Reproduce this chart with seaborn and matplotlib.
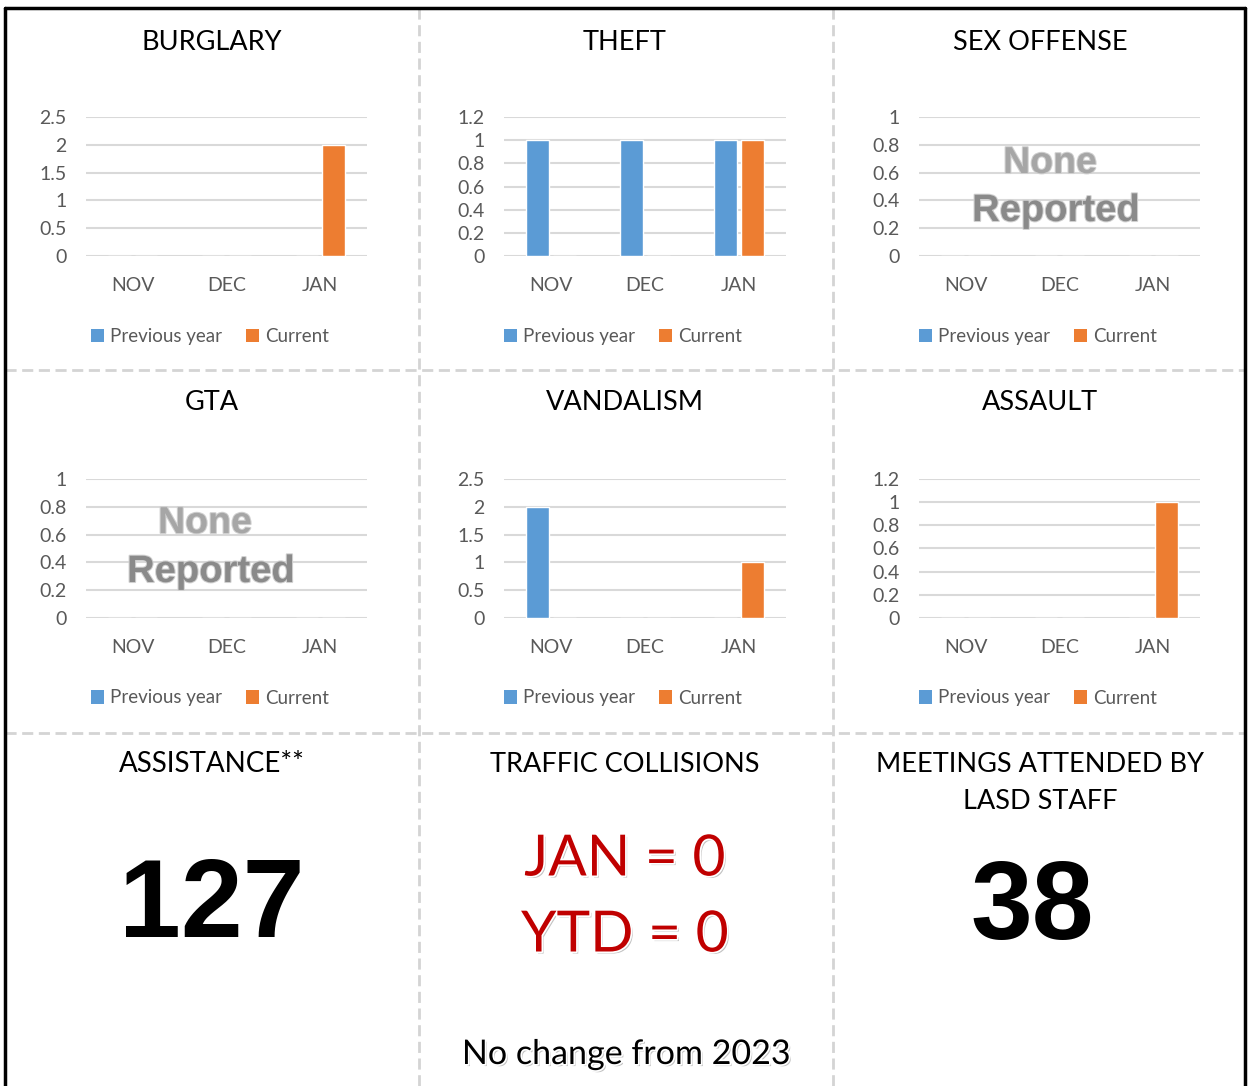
import matplotlib
matplotlib.use("Agg")
import matplotlib.pyplot as plt
import matplotlib.patheffects as pe
from matplotlib.lines import Line2D
from matplotlib.patches import Patch
from matplotlib.ticker import FuncFormatter, MultipleLocator
import seaborn as sns
import pandas as pd

# ---------------- data ----------------
months = ["NOV", "DEC", "JAN"]
series_names = ["Previous year", "Current"]

burglary_prev = [0, 0, 0]
burglary_curr = [0, 0, 2]
theft_prev = [1, 1, 1]
theft_curr = [0, 0, 1]
sex_prev = [0, 0, 0]
sex_curr = [0, 0, 0]
gta_prev = [0, 0, 0]
gta_curr = [0, 0, 0]
vandalism_prev = [2, 0, 0]
vandalism_curr = [0, 0, 1]
assault_prev = [0, 0, 0]
assault_curr = [0, 0, 1]

titles = ["BURGLARY", "THEFT", "SEX OFFENSE", "GTA", "VANDALISM", "ASSAULT"]
y_max = [2.5, 1.2, 1.0, 1.0, 2.5, 1.2]
y_step = [0.5, 0.2, 0.2, 0.2, 0.5, 0.2]

assistance_value = "127"
meetings_value = "38"
traffic_lines = ["JAN = 0", "YTD = 0"]
traffic_note = "No change from 2023"

colors = {"Previous year": "#5B9BD5", "Current": "#ED7D31"}

# ---------------- figure ----------------
sns.set_theme(style="white")
plt.rcParams["font.family"] = ["Lato", "DejaVu Sans"]

W, H = 1248, 1086
fig = plt.figure(figsize=(W / 100, H / 100), dpi=100)
fig.patch.set_facecolor("white")


def fx(x):
    return x / W


def fy(y):
    return 1 - y / H


def add_ax(x0, x1, y0, y1):
    return fig.add_axes([fx(x0), fy(y1), (x1 - x0) / W, (y1 - y0) / H])


# separators
dash_kw = dict(color="#d4d4d4", lw=2, linestyle=(0, (4, 2)), transform=fig.transFigure)
for x in [419, 833]:
    fig.add_artist(Line2D([fx(x), fx(x)], [fy(8), fy(1086)], **dash_kw))
for y in [370, 733]:
    fig.add_artist(Line2D([fx(5), fx(1245)], [fy(y), fy(y)], **dash_kw))

# outer border
border_kw = dict(color="black", lw=2.5, transform=fig.transFigure)
fig.add_artist(Line2D([fx(5), fx(5)], [fy(8), fy(1086)], **border_kw))
fig.add_artist(Line2D([fx(1245), fx(1245)], [fy(8), fy(1086)], **border_kw))
fig.add_artist(Line2D([fx(5), fx(1245)], [fy(8), fy(8)], **border_kw))

data_pairs = [
    (burglary_prev, burglary_curr),
    (theft_prev, theft_curr),
    (sex_prev, sex_curr),
    (gta_prev, gta_curr),
    (vandalism_prev, vandalism_curr),
    (assault_prev, assault_curr),
]

col_x = [(86, 367), (504, 786), (919, 1200)]
col_center = [212, 625, 1040]
row_y = [(117, 256), (479, 618)]
title_y = [42, 402]
legend_y = [337, 698]

gray = "#595959"

for i, (prev, curr) in enumerate(data_pairs):
    r, c = divmod(i, 3)
    x0, x1 = col_x[c]
    y0, y1 = row_y[r]
    ax = add_ax(x0, x1, y0, y1)
    df = pd.DataFrame({
        "month": months * 2,
        "count": list(prev) + list(curr),
        "series": [series_names[0]] * 3 + [series_names[1]] * 3,
    })
    sns.barplot(data=df, x="month", y="count", hue="series", order=months,
                hue_order=series_names, palette=colors, width=0.57, gap=0.17,
                legend=False, ax=ax, saturation=1)
    ax.set_xlim(-0.5, 2.5)
    ax.set_ylim(0, y_max[i])
    ax.yaxis.set_major_locator(MultipleLocator(y_step[i]))
    ax.yaxis.set_major_formatter(FuncFormatter(lambda v, p: f"{v:g}"))
    ax.set_xlabel("")
    ax.set_ylabel("")
    ax.yaxis.grid(True, color="#d9d9d9", lw=1.5)
    ax.set_axisbelow(True)
    for s in ax.spines.values():
        s.set_visible(False)
    ax.tick_params(axis="both", length=0, labelsize=14, labelcolor=gray)
    ax.tick_params(axis="x", pad=15)
    ax.tick_params(axis="y", pad=14)
    for lab in ax.get_yticklabels():
        lab.set_horizontalalignment("right")
    ax.patch.set_alpha(0)

    fig.text(fx(col_center[c]), fy(title_y[r]), titles[i], ha="center",
             va="center", fontsize=19.5, color="black")

    handles = [Patch(facecolor=colors[n], edgecolor="none") for n in series_names]
    fig.legend(handles, series_names, loc="center",
               bbox_to_anchor=(fx(col_center[c] - 2), fy(legend_y[r])),
               ncol=2, frameon=False, fontsize=13.5, labelcolor=gray,
               handlelength=0.7, handleheight=0.7, handletextpad=0.3,
               columnspacing=1.3)

# "None Reported" overlays
none_fx = [pe.withStroke(linewidth=1.5, foreground="#d0d0d0")]
for cx, ny, ry in [(1050, 163, 211), (205, 523, 572)]:
    fig.text(fx(cx), fy(ny), "None", ha="center", va="center", fontsize=27,
             fontweight="bold", family=["Liberation Sans"], color="#a6a6a6",
             path_effects=none_fx)
    fig.text(fx(cx + 6), fy(ry), "Reported", ha="center", va="center",
             fontsize=27.5, fontweight="bold", family=["Liberation Sans"],
             color="#8a8a8a", path_effects=none_fx)

# bottom row
fig.text(fx(212), fy(764), "ASSISTANCE**", ha="center", va="center",
         fontsize=20, color="black")
fig.text(fx(625), fy(764), "TRAFFIC COLLISIONS", ha="center", va="center",
         fontsize=19.5, color="black")
fig.text(fx(1040), fy(783), "MEETINGS ATTENDED BY\nLASD STAFF", ha="center",
         va="center", fontsize=19.5, color="black", linespacing=1.6)

fig.text(fx(212), fy(908), assistance_value, ha="center", va="center",
         fontsize=80, fontweight="bold", family=["Liberation Sans"], color="black")
fig.text(fx(1032), fy(910), meetings_value, ha="center", va="center",
         fontsize=80, fontweight="bold", family=["Liberation Sans"], color="black")

shadow = [pe.withSimplePatchShadow(offset=(1.5, -1.5), shadow_rgbFace="#9a9a9a", alpha=0.6),
          pe.withStroke(linewidth=2.5, foreground="white")]
for txt, yy in zip(traffic_lines, [860, 936]):
    fig.text(fx(625), fy(yy), txt, ha="center", va="center", fontsize=41,
             color="#C00000", path_effects=shadow)
fig.text(fx(626), fy(1054), traffic_note, ha="center", va="center",
         fontsize=24.5, color="black", path_effects=shadow)

fig.savefig("out.png", dpi=100, facecolor="white")
